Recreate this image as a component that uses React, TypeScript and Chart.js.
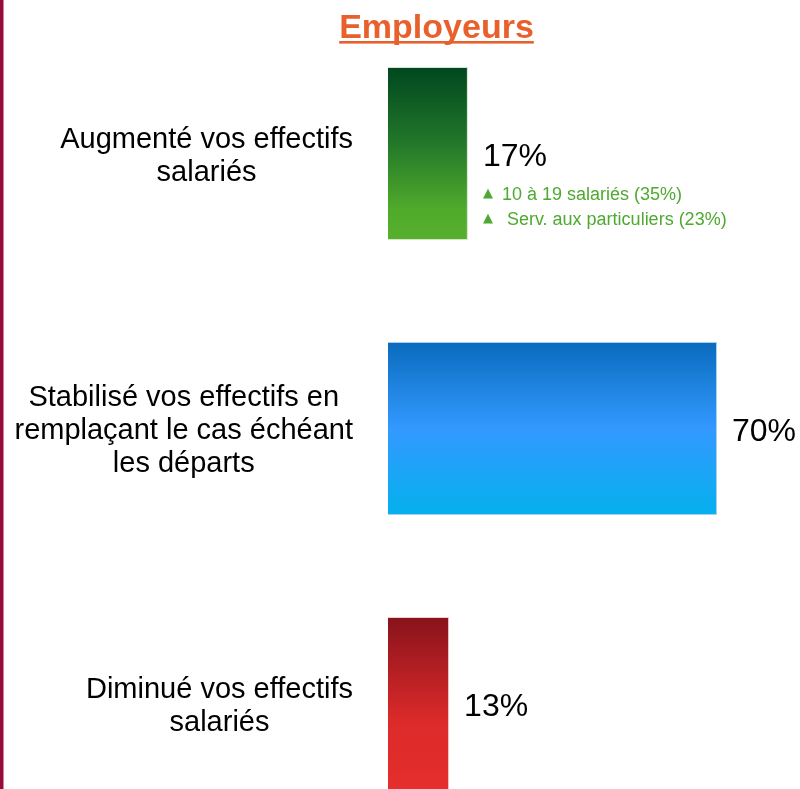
import React, { useEffect, useRef } from "react";
import { Chart, registerables } from "chart.js";

Chart.register(...registerables);

const title = "Employeurs";
const categories: string[][] = [
  ["Augmenté vos effectifs", "salariés"],
  ["Stabilisé vos effectifs en", "remplaçant le cas échéant", "les départs"],
  ["Diminué vos effectifs", "salariés"],
];
const values = [17, 70, 13];
const valueLabels = ["17%", "70%", "13%"];
const notes: string[][] = [
  ["10 à 19 salariés (35%)", " Serv. aux particuliers (23%)"],
  [],
  [],
];
const gradientStops: [number, string][][] = [
  [[0, "#00471f"], [0.45, "#23792a"], [0.82, "#50aa2b"], [1, "#57b02c"]],
  [[0, "#0a6bbd"], [0.5, "#3399ff"], [1, "#05b1ee"]],
  [[0, "#88131b"], [0.6, "#dc2a2a"], [1, "#e62e2e"]],
];
const borderColors = ["#d3e6cc", "#a6cff0", "#f3cccc"];

const BAR_PCT = 0.629;
const FONT = "'Liberation Sans', Arial, sans-serif";

const overlay = {
  id: "overlay",
  afterDraw(chart: any) {
    const { ctx, chartArea } = chart;
    const ys = chart.scales.y;
    const xs = chart.scales.x;
    ctx.save();
    // left border
    ctx.fillStyle = "#9a0b3d";
    ctx.fillRect(0, 0, 3.5, chart.height);
    // title
    ctx.font = `bold 34px ${FONT}`;
    ctx.fillStyle = "#e8612c";
    ctx.textAlign = "center";
    ctx.textBaseline = "alphabetic";
    const tx = 436.5;
    ctx.fillText(title, tx, 37.5);
    const tw = ctx.measureText(title).width;
    ctx.fillRect(tx - tw / 2, 41, tw, 2.6);

    categories.forEach((lines, i) => {
      const cy = ys.getPixelForTick(i);
      // category label
      ctx.font = `29px ${FONT}`;
      ctx.fillStyle = "#000";
      ctx.textBaseline = "middle";
      ctx.textAlign = "center";
      const widest = Math.max(...lines.map((l) => ctx.measureText(l).width));
      const cx = chartArea.left - 35 - widest / 2;
      const lh = 33;
      lines.forEach((l, k) => {
        ctx.fillText(l, cx, cy + 2.5 + (k - (lines.length - 1) / 2) * lh);
      });
      // value label
      const xe = xs.getPixelForValue(values[i]);
      ctx.font = `32px ${FONT}`;
      ctx.textAlign = "left";
      ctx.fillText(valueLabels[i], xe + 15, cy + 3.5);
      // notes
      notes[i].forEach((n, k) => {
        const ny = cy + 41.5 + k * 25;
        ctx.fillStyle = "#4ea930";
        ctx.font = `13px 'DejaVu Sans', sans-serif`;
        ctx.fillText("▲", xe + 15, ny - 1);
        ctx.font = `18px ${FONT}`;
        ctx.fillText(n, xe + 34, ny);
      });
    });
    ctx.restore();
  },
};

export default function App() {
  const ref = useRef<HTMLCanvasElement | null>(null);
  useEffect(() => {
    if (!ref.current) return;
    const chart = new Chart(ref.current, {
      type: "bar",
      data: {
        labels: categories.map((c) => c.join(" ")),
        datasets: [
          {
            data: values,
            backgroundColor: (c: any) => {
              const chart = c.chart;
              const ca = chart.chartArea;
              const i = c.dataIndex;
              if (!ca || i === undefined) return gradientStops[0][0][1];
              const ys = chart.scales.y;
              const center = ys.getPixelForTick(i);
              const half = ((ca.bottom - ca.top) / values.length) * BAR_PCT / 2;
              const g = chart.ctx.createLinearGradient(0, center - half, 0, center + half);
              gradientStops[i].forEach(([o, col]) => g.addColorStop(o, col));
              return g;
            },
            borderColor: borderColors,
            borderWidth: 1,
            categoryPercentage: 1,
            barPercentage: BAR_PCT,
          },
        ],
      },
      options: {
        indexAxis: "y",
        responsive: false,
        animation: false,
        layout: { padding: { left: 388, right: 36, top: 16, bottom: 19 } },
        plugins: {
          legend: { display: false },
          tooltip: { enabled: false },
          title: { display: false },
        },
        scales: {
          x: { display: false, min: 0, max: 80, grid: { display: false } },
          y: { display: false, grid: { display: false } },
        },
      },
      plugins: [overlay],
    } as any);
    return () => chart.destroy();
  }, []);
  return (
    <div
      style={{
        position: "fixed",
        left: 0,
        top: 0,
        width: 800,
        height: 789,
        overflow: "hidden",
        background: "#fff",
      }}
    >
      <canvas ref={ref} width={800} height={860} style={{ display: "block" }} />
    </div>
  );
}
